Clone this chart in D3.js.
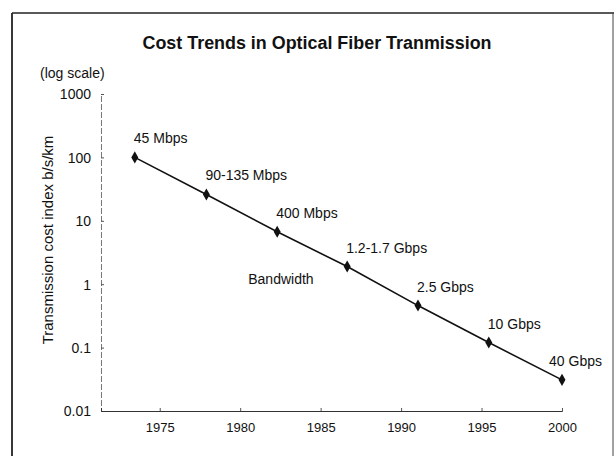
<!DOCTYPE html>
<html>
<head>
<meta charset="utf-8">
<script src="https://cdn.jsdelivr.net/npm/d3@7"></script>
<style>
  html, body { margin: 0; padding: 0; background: #fff; }
  svg { display: block; }
  text { font-family: "Liberation Sans", Arial, sans-serif; fill: #111; }
</style>
</head>
<body>
<svg id="chart" width="614" height="456"></svg>
<script>
// ---- data ----
const years = [1973.45, 1977.9, 1982.3, 1986.65, 1991.05, 1995.45, 2000];
const costs = [100, 26, 6.7, 1.9, 0.46, 0.12, 0.031];
const rateLabels = ["45 Mbps", "90-135 Mbps", "400 Mbps", "1.2-1.7 Gbps", "2.5 Gbps", "10 Gbps", "40 Gbps"];
const xTicks = [1975, 1980, 1985, 1990, 1995, 2000];
const yTicks = [1000, 100, 10, 1, 0.1, 0.01];
const yTickLabels = ["1000", "100", "10", "1", "0.1", "0.01"];
const titleText = "Cost Trends in Optical Fiber Tranmission";
const yAxisTitle = "Transmission cost index b/s/km";
const scaleNote = "(log scale)";
const seriesName = "Bandwidth";
const seriesNameAt = [1980.5, 1.2];

// ---- layout ----
const W = 614, H = 456;
const plot = { left: 101, right: 562, top: 94, bottom: 411 };

const svg = d3.select("#chart");

// frame (scanned box)
svg.append("line").attr("x1", 12).attr("x2", W).attr("y1", 13).attr("y2", 13)
  .attr("stroke", "#222").attr("stroke-width", 1.6);
svg.append("line").attr("x1", 12).attr("x2", 12).attr("y1", 13).attr("y2", H)
  .attr("stroke", "#222").attr("stroke-width", 1.8);
svg.append("line").attr("x1", W - 1).attr("x2", W - 1).attr("y1", 13).attr("y2", H)
  .attr("stroke", "#444").attr("stroke-width", 1);

const x = d3.scaleLinear().domain([1971.35, 2000]).range([plot.left, plot.right]);
const y = d3.scaleLog().domain([0.01, 1000]).range([plot.bottom, plot.top]);

// title
svg.append("text")
  .attr("x", 317).attr("y", 43)
  .attr("text-anchor", "middle").attr("dominant-baseline", "central")
  .attr("textLength", 349).attr("lengthAdjust", "spacingAndGlyphs")
  .style("font-family", "'Liberation Sans Narrow', 'Liberation Sans', Arial, sans-serif")
  .style("font-weight", "bold").style("font-size", "18px")
  .text(titleText);

// log scale note
svg.append("text")
  .attr("x", 40).attr("y", 73).attr("dominant-baseline", "central")
  .style("font-size", "14px").text(scaleNote);

// y axis
const yAxis = d3.axisRight(y).tickValues(yTicks).tickSize(3)
  .tickFormat((d, i) => yTickLabels[i]);
const gy = svg.append("g").attr("transform", `translate(${plot.left},0)`).call(yAxis);
gy.select(".domain").attr("stroke", "#777").attr("stroke-width", 1).attr("stroke-dasharray", "6,2");
gy.selectAll(".tick line").attr("stroke", "#555");
gy.selectAll(".tick text")
  .attr("x", -10).attr("text-anchor", "end").attr("dy", "0.35em")
  .style("font-size", "14px").style("fill", "#111");

// x axis
const xAxis = d3.axisTop(x).tickValues(xTicks).tickSize(3).tickFormat(d3.format("d"));
const gx = svg.append("g").attr("transform", `translate(0,${plot.bottom})`).call(xAxis);
gx.select(".domain").attr("stroke", "#333").attr("stroke-width", 1);
gx.selectAll(".tick line").attr("stroke", "#555");
gx.selectAll(".tick text")
  .attr("y", 16).attr("dy", "0.35em")
  .style("font-size", "13px").style("fill", "#111");

// y axis title
svg.append("text")
  .attr("transform", "translate(47,240) rotate(-90)")
  .attr("text-anchor", "middle").attr("dominant-baseline", "central")
  .style("font-size", "15px").text(yAxisTitle);

// line
const pts = years.map((yr, i) => ({ yr, v: costs[i], label: rateLabels[i] }));
const line = d3.line().x(d => x(d.yr)).y(d => y(d.v));
svg.append("path").datum(pts).attr("d", line)
  .attr("fill", "none").attr("stroke", "#111").attr("stroke-width", 1.6);

// markers
svg.selectAll("path.marker").data(pts).join("path")
  .attr("class", "marker")
  .attr("transform", d => `translate(${x(d.yr)},${y(d.v)})`)
  .attr("d", d3.symbol(d3.symbolDiamond, 42))
  .attr("fill", "#111");

// point labels
const labels = svg.selectAll("text.rate").data(pts).join("text")
  .attr("class", "rate")
  .attr("x", d => x(d.yr) - 1)
  .attr("y", d => y(d.v) - 14)
  .style("font-size", "14px")
  .text(d => d.label);
// keep labels inside the frame
labels.each(function () {
  const bb = this.getBBox();
  const maxRight = W - 12;
  if (bb.x + bb.width > maxRight) d3.select(this).attr("x", maxRight - bb.width);
});

// series name
svg.append("text")
  .attr("x", x(seriesNameAt[0])).attr("y", y(seriesNameAt[1]))
  .attr("dominant-baseline", "central")
  .style("font-size", "14px").text(seriesName);
</script>
</body>
</html>
